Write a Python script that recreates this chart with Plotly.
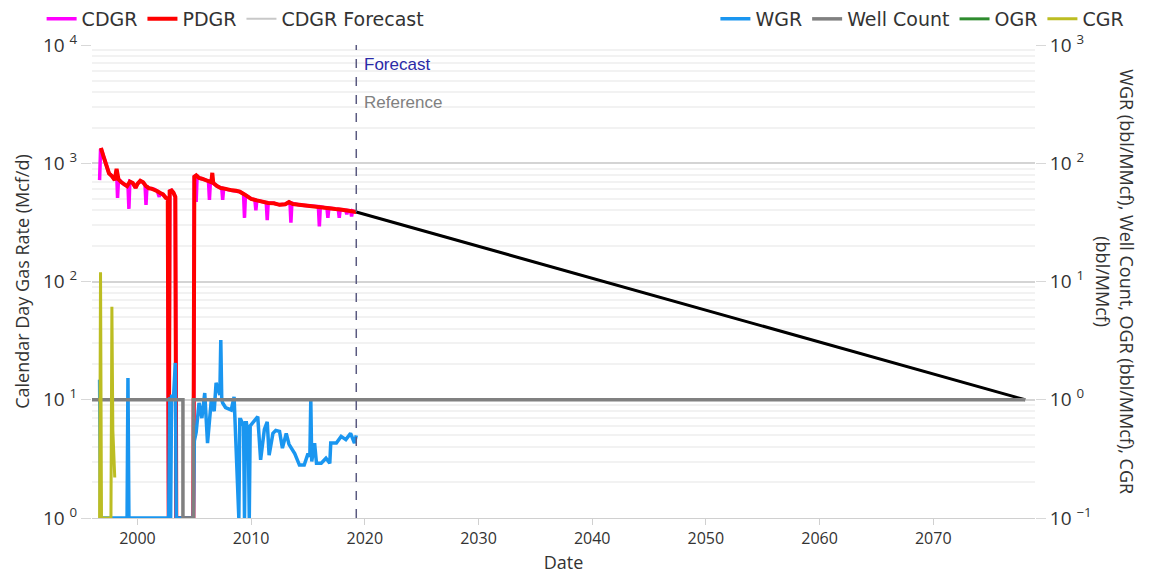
import numpy as np
import plotly.graph_objects as go

# ---- Producing-day gas rate (Mcf/d) ----
pdgr_dates = ["1996-09", "1996-11", "1997-01", "1997-04", "1997-07", "1997-10", "1998-01", "1998-03",
              "1998-05", "1998-08", "1998-11", "1999-02", "1999-05", "1999-08", "1999-11", "2000-01",
              "2000-04", "2000-07", "2000-10", "2001-01", "2001-04", "2001-07", "2001-10", "2002-01",
              "2002-04", "2002-07", "2002-09", "2002-10", "2002-11", "2003-01", "2003-03", "2003-05",
              "2003-06", "2004-12", "2005-01", "2005-03", "2005-06", "2005-09", "2006-01", "2006-05",
              "2006-07", "2006-08", "2006-09", "2007-01", "2007-05", "2007-09", "2008-01", "2008-05",
              "2008-09", "2009-01", "2009-06", "2010-01", "2010-07", "2011-01", "2011-07", "2012-01",
              "2012-07", "2013-01", "2013-05", "2013-09", "2014-04", "2014-10", "2015-05", "2015-11",
              "2016-06", "2016-12", "2017-06", "2018-01", "2018-05", "2018-11", "2019-02", "2019-04"]
pdgr_rate = [1290, 1300, 1150, 950, 820, 780, 720, 895,
             730, 690, 660, 640, 700, 680, 620, 670,
             710, 690, 640, 615, 610, 600, 580, 560,
             545, 510, 500, 0, 580, 590, 565, 520,
             0, 0, 770, 790, 750, 740, 720, 700,
             690, 830, 680, 640, 618, 610, 595, 590,
             585, 575, 545, 500, 485, 470, 462, 458,
             445, 450, 470, 452, 444, 440, 435, 430,
             422, 417, 410, 405, 400, 395, 389, 387]

# ---- Calendar-day gas rate (Mcf/d) ----
cdgr_dates = ["1996-09", "1996-10", "1996-11", "1997-01", "1997-04", "1997-07", "1997-10", "1998-01",
              "1998-03", "1998-04", "1998-05", "1998-08", "1998-11", "1999-02", "1999-03", "1999-04",
              "1999-05", "1999-08", "1999-11", "2000-01", "2000-04", "2000-07", "2000-09", "2000-10",
              "2000-11", "2001-01", "2001-04", "2001-07", "2001-10", "2001-12", "2002-01", "2002-04",
              "2002-07", "2002-09", "2002-10", "2002-11", "2003-01", "2003-03", "2003-05", "2003-06",
              "2004-12", "2005-01", "2005-02", "2005-03", "2005-04", "2005-06", "2005-09", "2006-01",
              "2006-04", "2006-05", "2006-06", "2006-09", "2007-01", "2007-05", "2007-06", "2007-07",
              "2007-08", "2008-01", "2008-05", "2008-09", "2009-01", "2009-05", "2009-06", "2009-07",
              "2010-01", "2010-05", "2010-06", "2010-07", "2011-01", "2011-05", "2011-06", "2011-07",
              "2012-01", "2012-07", "2013-01", "2013-05", "2013-06", "2013-07", "2013-08", "2014-04",
              "2014-10", "2015-05", "2015-12", "2016-01", "2016-02", "2016-06", "2016-09", "2016-10",
              "2016-11", "2017-06", "2017-09", "2017-10", "2017-11", "2018-05", "2018-06", "2018-07",
              "2018-10", "2018-11", "2018-12", "2019-02", "2019-04"]
cdgr_rate = [720, 1290, 1300, 1150, 950, 820, 780, 720,
             880, 510, 730, 690, 660, 640, 660, 411,
             700, 680, 620, 670, 710, 690, 650, 444,
             640, 615, 610, 600, 580, 520, 560, 545,
             510, 500, 0, 580, 590, 565, 520, 0,
             0, 770, 780, 470, 785, 750, 740, 720,
             705, 490, 700, 680, 640, 618, 615, 490,
             612, 595, 590, 585, 575, 550, 345, 540,
             500, 490, 400, 485, 470, 465, 330, 462,
             458, 445, 450, 470, 465, 315, 460, 444,
             440, 435, 430, 292, 428, 422, 420, 345,
             418, 410, 408, 345, 407, 400, 370, 399,
             396, 355, 395, 389, 387]

# ---- CDGR forecast (exponential decline, straight on log scale) ----
forecast_dates = ["2019-04", "2078-02"]
forecast_rate = [387, 10]

# ---- Water-gas ratio (bbl/MMcf) ----
wgr_dates = ["1996-09", "1996-10", "1999-02", "1999-03", "1999-04", "2002-10", "2002-11", "2002-12",
             "2003-01", "2003-03", "2003-05", "2003-06", "2004-12", "2005-01", "2005-03", "2005-06",
             "2005-09", "2005-12", "2006-03", "2006-07", "2006-10", "2006-12", "2007-04", "2007-05",
             "2007-06", "2007-07", "2007-10", "2008-04", "2008-07", "2008-09", "2008-12", "2009-01",
             "2009-02", "2009-05", "2009-06", "2009-07", "2009-08", "2009-10", "2009-11", "2009-12",
             "2010-03", "2010-08", "2010-11", "2011-03", "2011-06", "2011-08", "2011-12", "2012-03",
             "2012-07", "2012-10", "2013-02", "2013-05", "2013-11", "2014-04", "2014-09", "2015-01",
             "2015-03", "2015-04", "2015-05", "2015-08", "2015-10", "2016-03", "2016-08", "2016-12",
             "2017-01", "2017-07", "2017-12", "2018-05", "2018-10", "2019-02", "2019-04"]
wgr = [1.48, 0, 0, 1.53, 0, 0, 1.05, 0,
       1.1, 1.0, 2.05, 0, 0, 0.45, 0.53, 0.94,
       0.7, 1.14, 0.43, 1.0, 0.8, 1.39, 1.1, 3.2,
       1.0, 0.94, 0.86, 0.82, 1.06, 0.43, 0, 0.68,
       0.68, 0.6, 0, 0.64, 0.64, 0.5, 0, 0.6,
       0.64, 0.72, 0.31, 0.56, 0.65, 0.34, 0.52, 0.55,
       0.54, 0.39, 0.52, 0.42, 0.35, 0.28, 0.28, 0.35,
       0.33, 1.0, 0.3, 0.43, 0.29, 0.29, 0.32, 0.29,
       0.43, 0.43, 0.49, 0.46, 0.52, 0.43, 0.5]

# ---- Well count ----
well_dates = ["1996-01", "2003-12", "2004-01", "2004-11", "2004-12", "2078-02"]
well_count = [1, 1, 0, 0, 1, 1]

# ---- Oil-gas ratio (no oil reported, so nothing lands on the log axis) ----
ogr_dates = ["1996-09", "2019-04"]
ogr = [0, 0]

# ---- Condensate-gas ratio (bbl/MMcf) ----
cgr_dates = ["1996-09", "1996-10", "1996-11", "1997-09", "1997-10", "1997-11", "1997-12", "1998-01"]
cgr = [0, 12, 0, 0, 6.1, 0.55, 0.35, 0.22]

# zero values sit on the floor of each log axis
LEFT_FLOOR, RIGHT_FLOOR = 1.0, 0.1


def floor(vals, lo):
    return np.maximum(np.asarray(vals, dtype=float), lo)


fig = go.Figure()

fig.add_trace(go.Scatter(x=cdgr_dates, y=floor(cdgr_rate, LEFT_FLOOR), name="CDGR",
                         mode="lines", line=dict(color="#ff00ff", width=3.5)))
fig.add_trace(go.Scatter(x=pdgr_dates, y=floor(pdgr_rate, LEFT_FLOOR), name="PDGR",
                         mode="lines", line=dict(color="#ff0000", width=4)))
fig.add_trace(go.Scatter(x=forecast_dates, y=forecast_rate, name="CDGR Forecast",
                         mode="lines", line=dict(color="#c8c8c8", width=2)))
fig.add_trace(go.Scatter(x=forecast_dates, y=forecast_rate, name="Reference", showlegend=False,
                         mode="lines", line=dict(color="#000000", width=3)))

fig.add_trace(go.Scatter(x=wgr_dates, y=floor(wgr, RIGHT_FLOOR), name="WGR", yaxis="y2",
                         legend="legend2", mode="lines", line=dict(color="#1a96f0", width=3.5)))
fig.add_trace(go.Scatter(x=well_dates, y=floor(well_count, RIGHT_FLOOR), name="Well Count",
                         yaxis="y2", legend="legend2", mode="lines", line_shape="hv",
                         line=dict(color="#808080", width=3.5)))
fig.add_trace(go.Scatter(x=ogr_dates, y=ogr, name="OGR", yaxis="y2", legend="legend2",
                         mode="lines", line=dict(color="#2e8b2e", width=3)))
fig.add_trace(go.Scatter(x=cgr_dates, y=floor(cgr, RIGHT_FLOOR), name="CGR", yaxis="y2",
                         legend="legend2", mode="lines", line=dict(color="#bcbd22", width=3)))

TICK_FONT = dict(family="Open Sans", size=16, color="#333333")
YTICK_FONT = dict(family="Open Sans", size=19, color="#333333")
TITLE_FONT = dict(family="Open Sans", size=18, color="#333333")
LEGEND_FONT = dict(family="DejaVu Sans", size=19, color="#333333")
GRID = "#d4d4d4"
MINOR_GRID = "#f2f2f2"


def pow10(p):
    return "10 <sup>%s</sup>" % (str(p) if p >= 0 else "\u2212" + str(-p))


fig.update_layout(
    width=1156, height=580,
    margin=dict(l=92, r=121, t=45, b=62, autoexpand=False),
    paper_bgcolor="white", plot_bgcolor="white",
    xaxis=dict(
        type="date", range=["1996-01-01", "2078-12-15"],
        showgrid=False, zeroline=False,
        showline=True, linecolor="#d0d0d0", linewidth=1,
        ticks="outside", ticklen=6, tickcolor="#d0d0d0",
        dtick="M120", tick0="2000-01-01", tickformat="%Y",
        tickfont=TICK_FONT,
        title=dict(text="Date", font=TITLE_FONT, standoff=8),
    ),
    yaxis=dict(
        type="log", range=[0, 4],
        tickvals=[1, 10, 100, 1000, 10000], ticktext=[pow10(p) for p in range(0, 5)],
        showgrid=True, gridcolor=GRID, gridwidth=1.5, zeroline=False,
        ticks="outside", ticklen=10, tickcolor="#d8d8d8",
        minor=dict(dtick="D1", showgrid=True, gridcolor=MINOR_GRID, ticks=""),
        tickfont=YTICK_FONT,
        title=dict(text="Calendar Day Gas Rate (Mcf/d)", font=TITLE_FONT, standoff=8),
    ),
    yaxis2=dict(
        type="log", range=[-1, 3], overlaying="y", side="right",
        tickvals=[0.1, 1, 10, 100, 1000], ticktext=[pow10(p) for p in range(-1, 4)],
        showgrid=False, zeroline=False,
        ticks="outside", ticklen=10, tickcolor="#d8d8d8",
        tickfont=YTICK_FONT,
    ),
    legend=dict(orientation="h", xref="container", yref="container", x=0.036, y=1.0,
                xanchor="left", yanchor="top", itemwidth=30, font=LEGEND_FONT,
                bgcolor="rgba(0,0,0,0)"),
    legend2=dict(orientation="h", xref="container", yref="container", x=0.977, y=1.0,
                 xanchor="right", yanchor="top", itemwidth=30, font=LEGEND_FONT,
                 bgcolor="rgba(0,0,0,0)"),
    shapes=[dict(type="line", xref="x", yref="paper", x0="2019-04-01", x1="2019-04-01",
                 y0=0, y1=1, line=dict(color="#5a5a80", width=1.5, dash="dash"))],
    annotations=[
        dict(text="Forecast", x="2019-04-01", y=0.958, xref="x", yref="paper",
             xanchor="left", yanchor="middle", xshift=6, showarrow=False,
             font=dict(family="Liberation Sans", size=17, color="#2b2ba8")),
        dict(text="Reference", x="2019-04-01", y=0.878, xref="x", yref="paper",
             xanchor="left", yanchor="middle", xshift=6, showarrow=False,
             font=dict(family="Liberation Sans", size=17, color="#808080")),
        dict(text="WGR (bbl/MMcf), Well Count, OGR (bbl/MMcf), CGR<br>(bbl/MMcf)",
             x=1.085, y=0.5, xref="paper", yref="paper", textangle=90,
             xanchor="center", yanchor="middle", showarrow=False, font=TITLE_FONT),
    ],
)

fig.write_html("out.html")
